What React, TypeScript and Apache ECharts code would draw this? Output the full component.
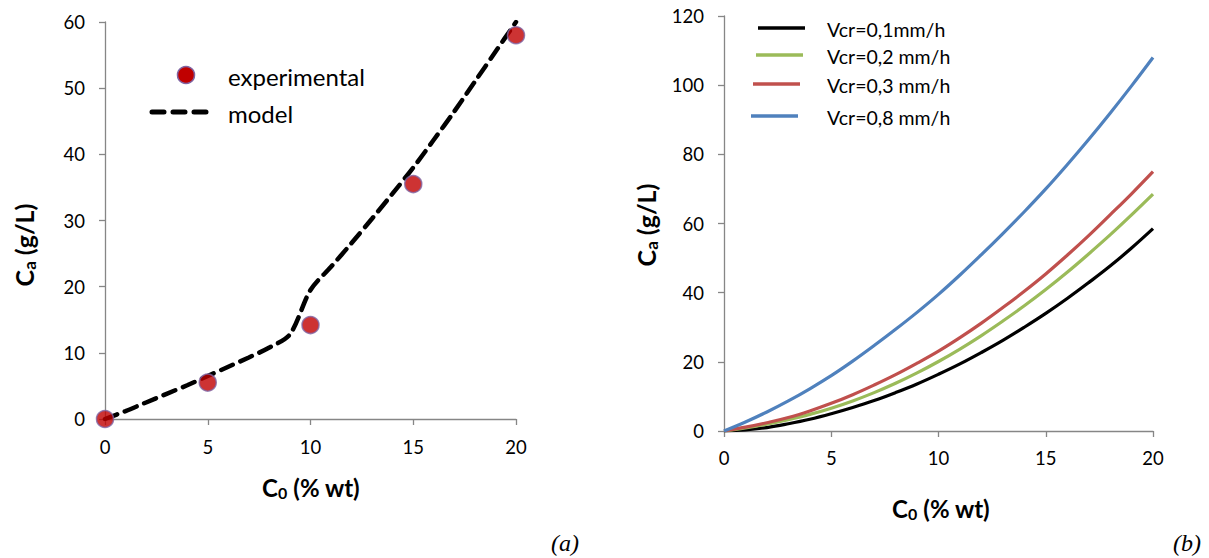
import React, { useEffect, useRef } from "react";
import * as echarts from "echarts";

const FONT = "Lato, 'Open Sans', sans-serif";

// (a) experimental vs model
const expX = [0, 5, 10, 15, 20];
const expY = [0, 5.5, 14.2, 35.5, 58];
const modelX = [0, 1, 2, 3, 4, 5, 6, 7, 8, 9, 10, 11, 12, 13, 14, 15, 16, 17, 18, 19, 20];
const modelY = [0, 1.2, 2.5, 3.8, 5.1, 6.5, 7.9, 9.3, 10.8, 12.8, 19.5, 23, 26.6, 30.3, 34.1, 38, 42.2, 46.5, 51, 55.5, 60];

// (b) curves for different Vcr
const curveX = [0, 1, 2, 3, 4, 5, 6, 7, 8, 9, 10, 11, 12, 13, 14, 15, 16, 17, 18, 19, 20];
const vcr01 = [0, 0.3, 1, 2.1, 3.4, 5, 6.8, 8.8, 11.1, 13.6, 16.4, 19.4, 22.7, 26.2, 30, 34, 38.3, 42.9, 47.7, 52.9, 58.5];
const vcr02 = [0, 0.9, 2.0, 3.3, 4.8, 6.6, 8.7, 11.1, 13.8, 16.8, 20.1, 23.7, 27.6, 31.8, 36.2, 40.9, 45.9, 51.2, 56.7, 62.5, 68.5];
const vcr03 = [0, 1.1, 2.4, 3.9, 5.8, 8.0, 10.5, 13.3, 16.3, 19.6, 23.1, 27.0, 31.2, 35.7, 40.4, 45.4, 50.8, 56.5, 62.5, 68.6, 75];
const vcr08 = [0, 2.6, 5.5, 8.7, 12.2, 16, 20.2, 24.7, 29.4, 34.3, 39.5, 45.1, 51, 57.1, 63.4, 70, 77, 84.3, 91.9, 99.8, 108];

const legendA = ["experimental", "model"];
const legendB = ["Vcr=0,1mm/h", "Vcr=0,2 mm/h", "Vcr=0,3 mm/h", "Vcr=0,8 mm/h"];
const colorsB = ["#000000", "#9BBB59", "#C0504D", "#4F81BD"];

const zip = (xs: number[], ys: number[]) => xs.map((x, i) => [x, ys[i]]);

const axisCommon = {
  axisLine: { show: true, lineStyle: { color: "#868686", width: 1.3 } },
  axisTick: { show: true, inside: false, length: 6, lineStyle: { color: "#868686", width: 1.3 } },
  splitLine: { show: false },
  axisLabel: { color: "#000", fontSize: 18.5, fontFamily: FONT },
};

const titleRichX = {
  m: { fontSize: 24, fontWeight: "bold", fontFamily: FONT, color: "#000" },
  s: { fontSize: 16, fontWeight: "bold", fontFamily: FONT, color: "#000", padding: [10, 0, 0, 0] },
};
const titleRichY = {
  m: { fontSize: 25, fontWeight: "bold", fontFamily: FONT, color: "#000" },
  s: { fontSize: 17, fontWeight: "bold", fontFamily: FONT, color: "#000", padding: [10, 0, 0, 0] },
};

export default function App() {
  const ref = useRef<HTMLDivElement>(null);
  useEffect(() => {
    document.body.style.margin = "0";
    const chart = echarts.init(ref.current!, undefined, { renderer: "svg" });
    const seriesB = [vcr01, vcr02, vcr03, vcr08].map((d, i) => ({
      name: legendB[i],
      type: "line",
      xAxisIndex: 1,
      yAxisIndex: 1,
      data: zip(curveX, d),
      smooth: 0.4,
      showSymbol: false,
      lineStyle: { color: colorsB[i], width: 3.2 },
      z: 3 + i,
    }));
    chart.setOption({
      animation: false,
      grid: [
        { left: 105, top: 22, width: 411, height: 397 },
        { left: 724, top: 16, width: 429, height: 415 },
      ],
      xAxis: [
        { ...axisCommon, gridIndex: 0, type: "value", min: 0, max: 20, interval: 5, axisLabel: { ...axisCommon.axisLabel, margin: 18 } },
        { ...axisCommon, gridIndex: 1, type: "value", min: 0, max: 20, interval: 5, axisLabel: { ...axisCommon.axisLabel, margin: 17 } },
      ],
      yAxis: [
        { ...axisCommon, gridIndex: 0, type: "value", min: 0, max: 60, interval: 10, axisLabel: { ...axisCommon.axisLabel, margin: 20 } },
        { ...axisCommon, gridIndex: 1, type: "value", min: 0, max: 120, interval: 20, axisLabel: { ...axisCommon.axisLabel, margin: 20 } },
      ],
      series: [
        {
          name: legendA[1],
          type: "line",
          xAxisIndex: 0,
          yAxisIndex: 0,
          data: zip(modelX, modelY),
          smooth: 0.3,
          showSymbol: false,
          lineStyle: { color: "#000", width: 4.5, type: [13, 8], cap: "round" },
          z: 2,
        },
        {
          name: legendA[0],
          type: "scatter",
          xAxisIndex: 0,
          yAxisIndex: 0,
          data: zip(expX, expY),
          symbol: "circle",
          symbolSize: 17,
          itemStyle: { color: "#C00000", borderColor: "#8064A2", borderWidth: 1.5 },
          z: 3,
        },
        ...seriesB,
      ],
      graphic: [
        // legend (a)
        { type: "circle", shape: { cx: 186, cy: 75, r: 8.5 }, style: { fill: "#C00000", stroke: "#8064A2", lineWidth: 1.5 } },
        { type: "text", x: 228, y: 76, style: { text: legendA[0], fontSize: 24, fontFamily: FONT, fill: "#000", verticalAlign: "middle" } },
        { type: "line", shape: { x1: 152, y1: 112, x2: 212, y2: 112 }, style: { stroke: "#000", lineWidth: 5, lineDash: [12, 9], lineCap: "round" } },
        { type: "text", x: 228, y: 113, style: { text: legendA[1], fontSize: 24, fontFamily: FONT, fill: "#000", verticalAlign: "middle" } },
        // legend (b)
        ...legendB.flatMap((t, i) => {
          const y = [28, 55, 84, 116][i];
          const x1 = [758, 756, 753, 751][i];
          return [
            { type: "line", shape: { x1, y1: y, x2: x1 + 47, y2: y }, style: { stroke: colorsB[i], lineWidth: 3.5 } },
            { type: "text", x: 827, y: y + 1, style: { text: t, fontSize: 19.5, fontFamily: FONT, fill: "#000", verticalAlign: "middle" } },
          ];
        }),
        // axis titles
        { type: "text", x: 311, y: 487, style: { text: "{m|C}{s|0}{m| (% wt)}", rich: titleRichX, align: "center", verticalAlign: "middle" } },
        { type: "text", x: 941, y: 508, style: { text: "{m|C}{s|0}{m| (% wt)}", rich: titleRichX, align: "center", verticalAlign: "middle" } },
        { type: "text", x: 24, y: 245, rotation: Math.PI / 2, style: { text: "{m|C}{s|a}{m| (g/L)}", rich: titleRichY, align: "center", verticalAlign: "middle" } },
        { type: "text", x: 646, y: 225, rotation: Math.PI / 2, style: { text: "{m|C}{s|a}{m| (g/L)}", rich: titleRichY, align: "center", verticalAlign: "middle" } },
        // panel labels
        { type: "text", x: 565, y: 543, style: { text: "(a)", fontSize: 24, fontStyle: "italic", fontFamily: "'Liberation Serif', serif", fill: "#000", align: "center", verticalAlign: "middle" } },
        { type: "text", x: 1187, y: 543, style: { text: "(b)", fontSize: 24, fontStyle: "italic", fontFamily: "'Liberation Serif', serif", fill: "#000", align: "center", verticalAlign: "middle" } },
      ],
    });
    return () => chart.dispose();
  }, []);
  return <div ref={ref} style={{ width: 1209, height: 558 }} />;
}
